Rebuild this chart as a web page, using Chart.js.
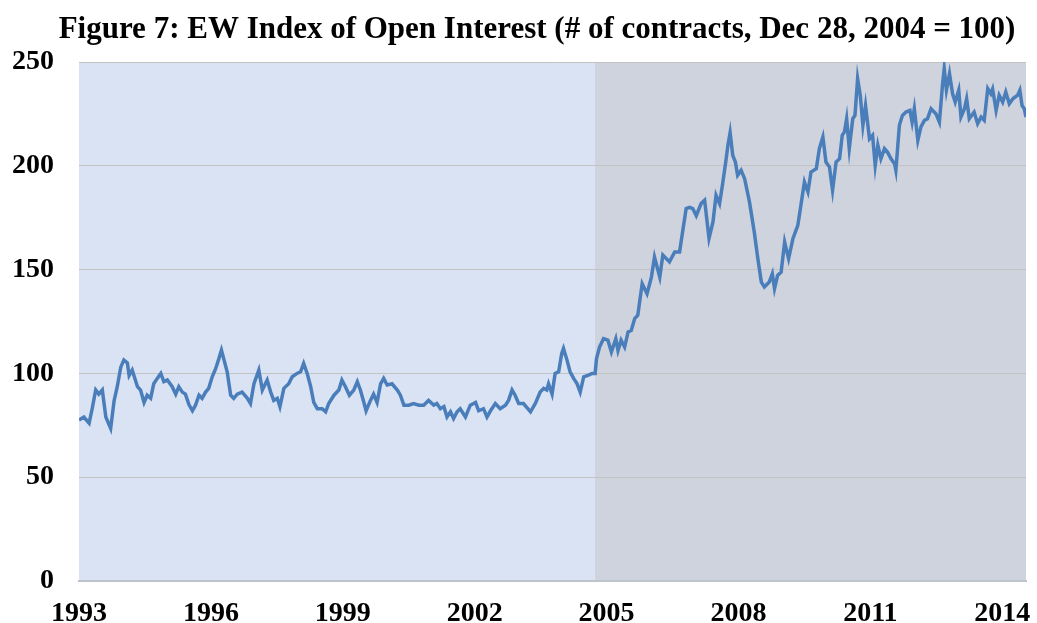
<!DOCTYPE html>
<html>
<head>
<meta charset="utf-8">
<title>EW Index of Open Interest</title>
<script src="https://cdn.jsdelivr.net/npm/chart.js@4.4.1/dist/chart.umd.min.js"></script>
<style>
    html, body { margin: 0; padding: 0; background: #ffffff; }
    #wrap { width: 1037px; height: 623px; }
</style>
</head>
<body>
<div id="wrap"><canvas id="oiChart" width="1037" height="623"></canvas></div>
<script>
// Weekly-ish readings, x in decimal years
const dates = [
    1993.00, 1993.11, 1993.23, 1993.30, 1993.38, 1993.45, 1993.53, 1993.61, 1993.72, 1993.80, 1993.87, 1993.95,
    1994.02, 1994.10, 1994.14, 1994.21, 1994.33, 1994.40, 1994.48, 1994.55, 1994.63, 1994.70, 1994.78, 1994.86, 1994.93,
    1995.01, 1995.12, 1995.20, 1995.27, 1995.35, 1995.42, 1995.50, 1995.58, 1995.65, 1995.73, 1995.80, 1995.88, 1995.95,
    1996.03, 1996.11, 1996.18, 1996.24, 1996.30, 1996.37, 1996.45, 1996.52, 1996.60, 1996.71, 1996.83, 1996.90, 1996.98,
    1997.09, 1997.17, 1997.28, 1997.36, 1997.43, 1997.51, 1997.57, 1997.66, 1997.77, 1997.85, 1997.96,
    1998.04, 1998.11, 1998.19, 1998.27, 1998.34, 1998.42, 1998.53, 1998.61, 1998.68, 1998.80, 1998.91, 1998.98,
    1999.06, 1999.15, 1999.25, 1999.33, 1999.40, 1999.48, 1999.53, 1999.63, 1999.70, 1999.78, 1999.86, 1999.93,
    2000.01, 2000.12, 2000.24, 2000.31, 2000.39, 2000.50, 2000.61, 2000.73, 2000.84, 2000.95,
    2001.07, 2001.14, 2001.22, 2001.30, 2001.37, 2001.45, 2001.52, 2001.60, 2001.67, 2001.79, 2001.90,
    2002.02, 2002.09, 2002.20, 2002.28, 2002.36, 2002.47, 2002.58, 2002.70, 2002.77, 2002.85, 2002.92,
    2003.00, 2003.11, 2003.27, 2003.38, 2003.49, 2003.57, 2003.64, 2003.68, 2003.76, 2003.83, 2003.91, 2003.98,
    2004.02, 2004.10, 2004.17, 2004.25, 2004.33, 2004.40, 2004.48, 2004.59, 2004.67, 2004.74, 2004.77, 2004.84, 2004.93,
    2005.03, 2005.11, 2005.21, 2005.26, 2005.33, 2005.41, 2005.49, 2005.56, 2005.64, 2005.71, 2005.81, 2005.92,
    2006.02, 2006.09, 2006.21, 2006.28, 2006.43, 2006.55, 2006.66, 2006.74, 2006.81, 2006.89, 2006.96,
    2007.04, 2007.15, 2007.23, 2007.33, 2007.42, 2007.49, 2007.57, 2007.64, 2007.71, 2007.76, 2007.81, 2007.87, 2007.93, 2007.98,
    2008.06, 2008.14, 2008.25, 2008.36, 2008.44, 2008.52, 2008.59, 2008.70, 2008.77, 2008.82, 2008.89, 2008.97,
    2009.05, 2009.14, 2009.24, 2009.35, 2009.42, 2009.50, 2009.58, 2009.65, 2009.77, 2009.84, 2009.92, 2009.99,
    2010.07, 2010.14, 2010.22, 2010.30, 2010.36, 2010.41, 2010.46, 2010.52, 2010.60, 2010.65, 2010.71, 2010.77, 2010.83, 2010.89, 2010.98,
    2011.05, 2011.11, 2011.17, 2011.24, 2011.32, 2011.39, 2011.47, 2011.55, 2011.58, 2011.66, 2011.73, 2011.81, 2011.90, 2011.95,
    2012.00, 2012.08, 2012.15, 2012.23, 2012.30, 2012.38, 2012.49, 2012.57, 2012.64, 2012.68, 2012.73, 2012.80, 2012.87, 2012.93,
    2013.01, 2013.06, 2013.14, 2013.19, 2013.25, 2013.36, 2013.44, 2013.52, 2013.59, 2013.67, 2013.74, 2013.78, 2013.86, 2013.93,
    2014.01, 2014.08, 2014.16, 2014.24, 2014.35, 2014.40, 2014.45, 2014.50, 2014.54
];

const indexValues = [
    77.5, 79, 76, 83, 92, 90, 92, 79, 73.5, 87, 93.6, 103,
    106.4, 105, 99, 101.6, 93.6, 92, 86, 89.5, 88, 95, 97.6, 100, 96,
    96.8, 93.6, 90, 93.6, 91, 90, 85, 82, 84.7, 89.5, 88, 91, 92.8,
    98.4, 102.4, 107, 111.2, 106.4, 100.8, 89.5, 88, 90, 91, 88, 85.5, 95,
    101.6, 92, 96.8, 91, 87, 88, 84, 92.8, 95, 98.4, 100,
    100.8, 104.8, 100, 93.6, 86, 83, 83, 81.5, 85.5, 89.5, 92, 96.8,
    93.6, 89.5, 92, 96, 92, 86, 82, 87, 90, 86, 95, 97.6,
    94.4, 95, 92, 89.5, 84.7, 84.7, 85.5, 84.7, 84.7, 87,
    84.7, 85.5, 83, 84, 79, 81.5, 78.3, 81.5, 83, 79, 84.7,
    86, 82, 83, 79, 82, 85.5, 83, 84.7, 87, 92, 89.5,
    85.5, 85.5, 81.5, 85.5, 91, 92.8, 92, 95, 90, 100, 100.8, 109.6,
    112, 106.4, 100.8, 97.6, 95, 91, 98.4, 99.2, 100, 100, 107, 112.7, 116.7,
    116, 110.3, 116.7, 111, 116, 112.7, 120, 120.7, 126.4, 128, 143.2, 138.4,
    146.4, 156, 146.4, 157, 153.7, 158.5, 158.5, 169.7, 179.4, 180, 179.4,
    176, 181.8, 183.4, 165, 173, 185.8, 181.8, 191.4, 201.8, 209.9, 216, 205, 201.8, 195.4,
    197.8, 193.8, 182.6, 168, 155.3, 144, 141.6, 144, 148, 140.8, 147.2, 148.8,
    163.3, 155.3, 165, 171.3, 181, 192.2, 187.4, 197, 198.6, 208.3, 213.9, 201.8,
    199.4, 188.2, 201.8, 203.4, 214.7, 216.3, 222.7, 208.3, 222.7, 224.3, 242, 234, 219.5, 229, 213,
    214.7, 200.2, 209.9, 203.4, 208.3, 206.6, 203.4, 201, 197.8, 219.5, 224.3, 225.9, 226.7, 221,
    227.5, 212.3, 218.7, 221.9, 222.7, 227.5, 225.1, 221, 238.8, 246.8, 236.4, 244.4, 234.7, 230.7,
    236.4, 223.5, 227.5, 232.3, 222.7, 225.9, 220.3, 223.5, 221.9, 237.2, 234.7, 237, 226.7, 234,
    230.7, 235.5, 229.9, 232.3, 234, 236.4, 229, 227.5, 223.5
];

const yearTicks = [1993, 1996, 1999, 2002, 2005, 2008, 2011, 2014];
const shadeStart = 2004.73;   // grey period begins
const firstDate = 1993.0;
const lastDate = 2014.54;
const chartTitle = 'Figure 7: EW Index of Open Interest (# of contracts, Dec 28, 2004 = 100)';

class OpenInterestChart {
    constructor(canvasId) {
        this.canvas = document.getElementById(canvasId);
        this.init();
    }

    init() {
        const points = dates.map((d, i) => ({ x: d, y: indexValues[i] }));
        const serif = "'Liberation Serif', 'Times New Roman', serif";

        // Two-tone plot background (blue before, grey after the split date)
        const shadePlugin = {
            id: 'shade',
            beforeDraw(chart) {
                const { ctx, chartArea: a, scales: { x } } = chart;
                const split = x.getPixelForValue(shadeStart);
                ctx.save();
                ctx.fillStyle = '#dae3f4';
                ctx.fillRect(a.left, a.top, split - a.left, a.bottom - a.top);
                ctx.fillStyle = '#cfd3de';
                ctx.fillRect(split, a.top, a.right - split, a.bottom - a.top);
                ctx.restore();
            }
        };

        // Title sits a bit right of the canvas centre in the original
        const titlePlugin = {
            id: 'figureTitle',
            afterDraw(chart) {
                const ctx = chart.ctx;
                ctx.save();
                ctx.font = `bold 31px ${serif}`;
                ctx.fillStyle = '#000000';
                ctx.textAlign = 'center';
                ctx.textBaseline = 'alphabetic';
                ctx.fillText(chartTitle, 537, 38);
                ctx.restore();
            }
        };

        this.chart = new Chart(this.canvas.getContext('2d'), {
            type: 'line',
            data: {
                datasets: [{
                    data: points,
                    borderColor: '#4a7ebb',
                    borderWidth: 3.5,
                    pointRadius: 0,
                    tension: 0,
                    fill: false
                }]
            },
            options: {
                responsive: false,
                animation: false,
                layout: { padding: { left: 0, right: 11, top: 62, bottom: 0 } },
                plugins: {
                    legend: { display: false },
                    tooltip: { enabled: false },
                    title: { display: false }
                },
                scales: {
                    x: {
                        type: 'linear',
                        min: firstDate,
                        max: lastDate,
                        afterBuildTicks: (scale) => {
                            scale.ticks = yearTicks.map(v => ({ value: v }));
                        },
                        afterFit: (scale) => {
                            scale.height = 42;
                            scale.paddingLeft = 0;
                            scale.paddingRight = 0;
                        },
                        grid: { display: false, drawTicks: false },
                        border: { display: true, color: '#bfc3cc', width: 2 },
                        ticks: {
                            autoSkip: false,
                            maxRotation: 0,
                            padding: 16,
                            color: '#000000',
                            font: { family: serif, size: 28, weight: 'bold' },
                            callback: (v) => String(v)
                        }
                    },
                    y: {
                        min: 0,
                        max: 250,
                        afterFit: (scale) => {
                            scale.width = 79;
                            scale.paddingTop = 0;
                            scale.paddingBottom = 0;
                        },
                        grid: { color: '#c3c3c3', lineWidth: 1, drawTicks: false },
                        border: { display: false },
                        ticks: {
                            stepSize: 50,
                            padding: 25,
                            color: '#000000',
                            font: { family: serif, size: 28, weight: 'bold' }
                        }
                    }
                }
            },
            plugins: [shadePlugin, titlePlugin]
        });
    }
}

new OpenInterestChart('oiChart');
</script>
</body>
</html>
